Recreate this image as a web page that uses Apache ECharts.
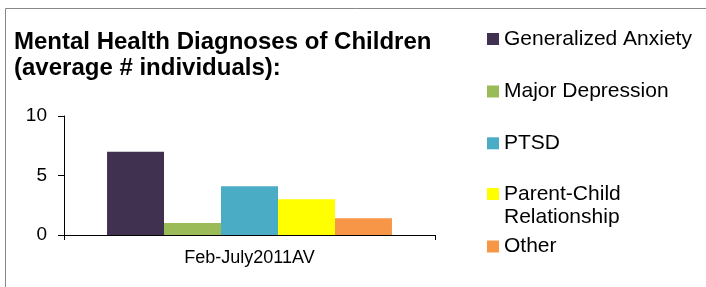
<!DOCTYPE html>
<html>
<head>
<meta charset="utf-8">
<script src="https://cdn.jsdelivr.net/npm/echarts@6/dist/echarts.min.js"></script>
<style>
html,body{margin:0;padding:0;background:#fff;}
#chart{width:706px;height:287px;}
</style>
</head>
<body>
<div id="chart"></div>
<script>
const categories = ['Feb-July2011AV'];
const seriesNames = ['Generalized Anxiety', 'Major Depression', 'PTSD', 'Parent-Child\nRelationship', 'Other'];
const seriesValues = [7, 1, 4.1, 3, 1.4];
const seriesColors = ['#403151', '#9BBB59', '#4BACC6', '#FFFF00', '#F79646'];
const yMin = 0, yMax = 10, yInterval = 5;

const legendIconCenters = [39, 91.5, 143.3, 194, 246.5];
const LH = 23.5;

const chart = echarts.init(document.getElementById('chart'), null, {renderer: 'canvas'});

const legends = seriesNames.map((name, i) => {
  const lines = name.split('\n').length;
  const h = LH * lines;
  const c = LH / 2;
  const icon = lines > 1
    ? 'path://M0 0L0 0M0 ' + (c - 6) + 'H12V' + (c + 6) + 'H0Z M0 ' + h + 'L0 ' + h
    : 'rect';
  return {
    orient: 'vertical',
    left: 487,
    top: legendIconCenters[i] - LH / 2,
    padding: 0,
    itemWidth: 12,
    itemHeight: lines > 1 ? h : 12,
    icon: icon,
    selectedMode: false,
    data: [name],
    textStyle: {
      fontFamily: 'Liberation Sans',
      fontSize: 21,
      lineHeight: LH,
      color: '#000'
    }
  };
});

const option = {
  animation: false,
  backgroundColor: '#fff',
  title: {
    text: 'Mental Health Diagnoses of Children\n(average # individuals):',
    left: 14,
    top: 29,
    padding: 0,
    textStyle: {
      fontFamily: 'Liberation Sans',
      fontWeight: 'bold',
      fontSize: 24,
      lineHeight: 26,
      color: '#000'
    }
  },
  legend: legends,
  grid: {left: 64, top: 116, right: 271, bottom: 52, containLabel: false},
  xAxis: {
    type: 'category',
    data: categories,
    boundaryGap: true,
    axisLine: {lineStyle: {color: '#000', width: 1}},
    axisTick: {show: true, length: 5, lineStyle: {color: '#000'}},
    axisLabel: {margin: 14, fontFamily: 'Liberation Sans', fontSize: 18, color: '#000'},
    splitLine: {show: false}
  },
  yAxis: {
    type: 'value',
    min: yMin,
    max: yMax,
    interval: yInterval,
    axisLine: {show: true, lineStyle: {color: '#000', width: 1}},
    axisTick: {show: true, length: 6, lineStyle: {color: '#000'}},
    axisLabel: {margin: 17, fontFamily: 'Liberation Sans', fontSize: 19, color: '#000'},
    splitLine: {show: false}
  },
  graphic: [{
    type: 'rect',
    silent: true,
    shape: {x: 5.5, y: 8.5, width: 1000, height: 1000},
    style: {fill: 'none', stroke: '#888888', lineWidth: 1},
    z: -1
  }],
  series: seriesNames.map((name, i) => ({
    name: name,
    type: 'bar',
    data: [seriesValues[i]],
    barGap: '0%',
    barCategoryGap: '23.2%',
    itemStyle: {color: seriesColors[i]}
  }))
};

chart.setOption(option);
</script>
</body>
</html>
